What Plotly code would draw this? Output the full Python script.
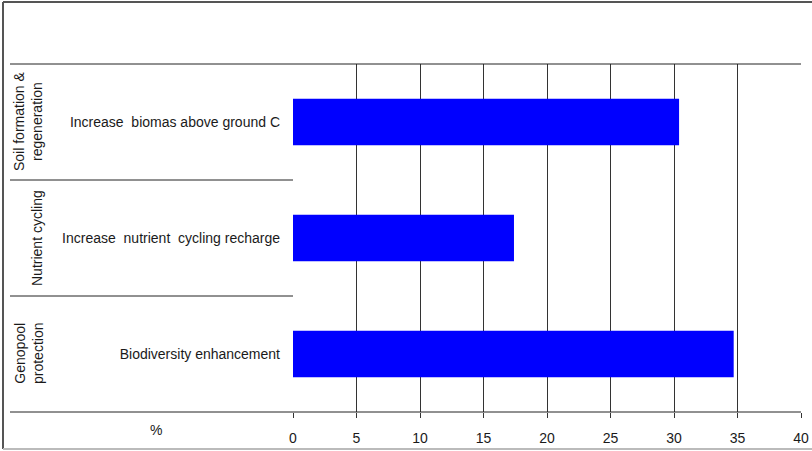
import plotly.graph_objects as go

categories = ["Increase biomas above ground C",
              "Increase nutrient cycling recharge",
              "Biodiversity enhancement"]
cat_labels = ["Increase  biomas above ground C",
              "Increase  nutrient  cycling recharge",
              "Biodiversity enhancement"]
values = [30.4, 17.4, 34.7]
groups = ["Soil formation &<br>regeneration", "Nutrient cycling", "Genopool<br>protection"]
x_ticks = [0, 5, 10, 15, 20, 25, 30, 35, 40]

W, H = 812, 451
L, R, T, B = 293, 11, 64, 39
pw = W - L - R
ph = H - T - B

def px(x):
    return (x - L) / pw

def py(y):
    return (H - B - y) / ph

font = dict(family="Liberation Sans, Arial, sans-serif", size=14, color="#1a1a1a")

fig = go.Figure(go.Bar(
    x=values, y=categories, orientation="h",
    marker=dict(color="#0000FF", line=dict(width=0)),
    hoverinfo="x+y",
))

shapes = []
line = dict(color="#222222", width=1)
for yy in [0, 1/3, 2/3, 1]:
    shapes.append(dict(type="line", xref="paper", yref="paper",
                       x0=px(10), x1=1 if yy in (0, 1) else 0, y0=yy, y1=yy, line=line))
frame = dict(color="#555555", width=2)
shapes.append(dict(type="line", xref="paper", yref="paper", x0=px(3), x1=px(3),
                   y0=py(2), y1=py(449), line=frame))
shapes.append(dict(type="line", xref="paper", yref="paper", x0=px(3), x1=px(812),
                   y0=py(2), y1=py(2), line=frame))
shapes.append(dict(type="line", xref="paper", yref="paper", x0=px(3), x1=px(812),
                   y0=py(449), y1=py(449), line=dict(color="#bbbbbb", width=2)))

annotations = []
group_x = [28, 37, 29]
for g, c, gx in zip(groups, categories, group_x):
    annotations.append(dict(text=g, x=px(gx), xref="paper", y=c, yref="y",
                            textangle=-90, showarrow=False, font=font,
                            xanchor="center", yanchor="middle"))
annotations.append(dict(text="%", x=px(156), xref="paper", y=py(430), yref="paper",
                        showarrow=False, font=font, xanchor="center", yanchor="middle"))

fig.update_layout(
    width=W, height=H,
    margin=dict(l=L, r=R, t=T, b=B, pad=0, autoexpand=False),
    paper_bgcolor="white", plot_bgcolor="white",
    bargap=0.6, showlegend=False,
    shapes=shapes, annotations=annotations,
    font=font,
    xaxis=dict(range=[0, 40], tickvals=x_ticks, ticktext=[str(t) for t in x_ticks],
               showgrid=True, gridcolor="#333333", gridwidth=1,
               ticks="outside", ticklen=5, tickcolor="#333333",
               showline=False, zeroline=False, tickfont=font,
               ticklabelstandoff=8, fixedrange=True, automargin=False),
    yaxis=dict(type="category", categoryorder="array", categoryarray=categories,
               tickvals=categories, ticktext=cat_labels,
               autorange="reversed", showgrid=False, zeroline=False,
               showline=False, ticks="", tickfont=font,
               ticklabelstandoff=12, fixedrange=True, automargin=False),
)

fig.write_html("out.html", config={"displayModeBar": False},
               post_script="document.body.style.margin='0';document.body.style.overflow='hidden';")
